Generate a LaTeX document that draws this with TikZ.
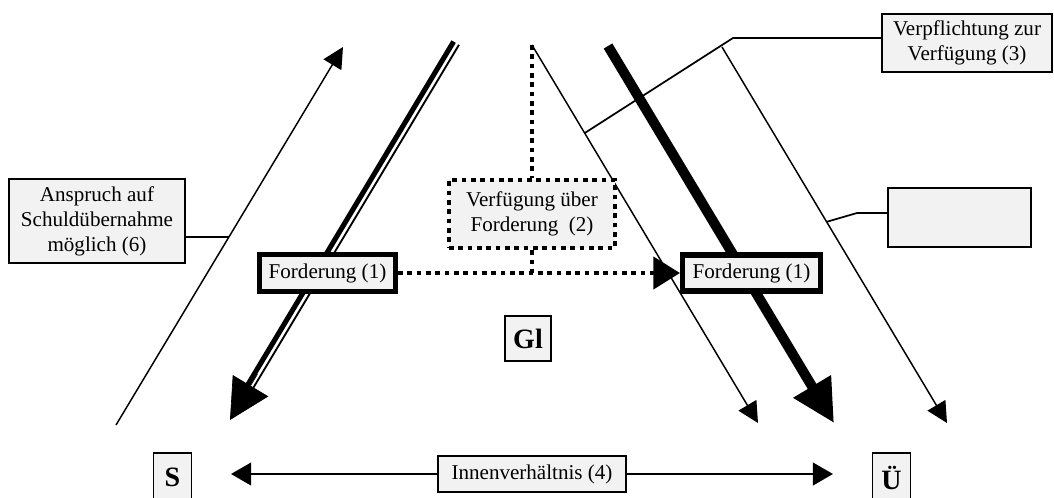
\documentclass[tikz,border=0pt]{standalone}
\usepackage{fontspec}
\setmainfont{Liberation Serif}
\usetikzlibrary{arrows.meta,calc}
\definecolor{boxgray}{RGB}{242,242,242}
\newcommand\txtfont{\fontsize{15.8}{18.8}\selectfont}
\newcommand\bigtxtfont{\fontsize{21}{24}\selectfont\bfseries}
\begin{document}
\begin{tikzpicture}[x=0.75pt,y=-0.75pt,
  thinline/.style={line width=1.1pt},
  smallhead/.style={-{Triangle[length=15.5pt,width=15.5pt]}},
  box/.style={draw, fill=boxgray, line width=1.3pt, inner sep=0pt, align=center, font=\txtfont},
  thickbox/.style={box, line width=3.8pt},
  dotbox/.style={box, line width=3.4pt, dash pattern=on 3.4pt off 3.6pt},
  bigbox/.style={box, font=\bigtxtfont},
  dotline/.style={line width=3.4pt, dash pattern=on 3.4pt off 3.6pt},
  connector/.style={line width=1.3pt}]
\useasboundingbox (0,0) rectangle (1054,497);

% free lines
\coordinate (a1s) at (116,425);
\coordinate (a1e) at (343,47);
\coordinate (dtop) at (456,43);
\coordinate (dtip) at (230,420);
\coordinate (dk1) at (453.6,41.6);
\coordinate (dk2) at (243.0,392.8);
\coordinate (dn1) at (459.0,44.8);
\coordinate (dn2) at (248.4,396.0);
\coordinate (l6s) at (532,45);
\coordinate (l6e) at (758,423);
\coordinate (l7s) at (608,46);
\coordinate (l7e) at (834,423);
\coordinate (l8s) at (722,47);
\coordinate (l8e) at (947,423);

\draw[thinline, smallhead] (a1s) -- (a1e);
\draw[line width=3.8pt] (dk1) -- (dk2);
\draw[line width=1.4pt] (dn1) -- (dn2);
\draw[line width=0.5pt, -{Triangle[length=30pt,width=31pt]}] ($(dtip)!40pt!(dtop)$) -- (dtip);
\draw[thinline, smallhead] (l6s) -- (l6e);
\draw[line width=7.5pt, -{Triangle[length=32pt,width=31pt]}] (l7s) -- (l7e);
\draw[thinline, smallhead] (l8s) -- (l8e);

% nodes
\node[box, minimum width=132pt, minimum height=63pt] (ansp) at (97,221) {Anspruch auf\\Schuldübernahme\\möglich (6)};
\node[thickbox, minimum width=102pt, minimum height=27.75pt] (fl) at (327.5,273) {Forderung (1)};
\node[thickbox, minimum width=103.5pt, minimum height=27pt] (fr) at (751.5,273) {Forderung (1)};
\node[dotbox, minimum width=124.5pt, minimum height=51pt] (vf) at (532,214) {Verfügung über\\Forderung\ \ (2)};
\node[box, minimum width=127.5pt, minimum height=43.5pt] (vp) at (967,43) {Verpflichtung zur\\Verfügung (3)};
\node[box, minimum width=107pt, minimum height=44pt] (empty) at (959.5,217.5) {};
\node[bigbox, minimum width=34.5pt, minimum height=33.75pt] (gl) at (528,338.5) {Gl};
\node[bigbox, minimum width=28.5pt, minimum height=36.75pt] (s) at (172.5,477.5) {S};
\node[bigbox, minimum width=28.5pt, minimum height=36.75pt] (ue) at (891.5,477.5) {Ü};
\node[box, minimum width=141pt, minimum height=27pt] (in) at (532,474) {Innenverhältnis (4)};

% connectors to lines
\coordinate (c6) at ($(a1s)!0.497!(a1e)$);
\draw[connector] (c6 -| ansp.east) -- (c6);
\coordinate (c3) at ($(l6s)!0.233!(l6e)$);
\coordinate (k3) at (733,38);
\draw[connector] (c3) -- (k3) -- (k3 -| vp.west);
\coordinate (ce) at ($(l8s)!0.465!(l8e)$);
\coordinate (ke) at (857,213);
\draw[connector] (ce) -- (ke) -- (ke -| empty.west);

% dotted
\draw[dotline] (l6s) -- (vf.north);
\draw[dotline] (vf.south) -- (vf.south |- fl.east);
\draw[dotline, -{Triangle[length=20pt,width=24pt]}] (fl.east) -- (fr.west);

% Innenverhaeltnis
\draw[connector, -{Triangle[length=15pt,width=17pt]}, shorten >=29pt] (in.west) -- (in.west -| s.east);
\draw[connector, -{Triangle[length=15pt,width=17pt]}, shorten >=29pt] (in.east) -- (in.east -| ue.west);
\end{tikzpicture}
\end{document}
